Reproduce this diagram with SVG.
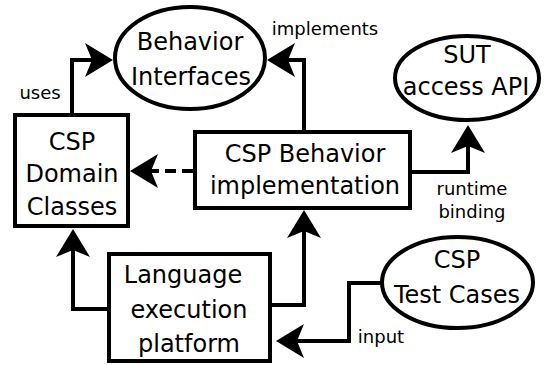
<svg xmlns="http://www.w3.org/2000/svg" width="547" height="365" viewBox="0 0 547 365">
<style>
.shape{fill:#fff;stroke:#000;stroke-width:4}
.t{font-family:"DejaVu Sans",sans-serif;font-size:24px;fill:#000;text-anchor:middle}
.s{font-family:"DejaVu Sans",sans-serif;font-size:18px;fill:#000;text-anchor:middle}
.c{fill:none;stroke:#000;stroke-width:4}
.d{stroke-dasharray:11 6}
</style>
<defs>
<marker id="ah" viewBox="0 0 28 34" refX="8" refY="17" markerWidth="28" markerHeight="34" markerUnits="userSpaceOnUse" orient="auto">
<path d="M28,17 L0,0 L7,17 L0,34 Z" fill="#000"/>
</marker>
</defs>
<rect width="547" height="365" fill="#fff"/>
<g id="connectors">
<path class="c" d="M72,115 V60 H93" marker-end="url(#ah)"/>
<path class="c" d="M304,132 V60 H287" marker-end="url(#ah)"/>
<path class="c d" d="M193,171 H150" marker-end="url(#ah)"/>
<path class="c" d="M410,172 H468 V145" marker-end="url(#ah)"/>
<path class="c" d="M109,309 H73 V249" marker-end="url(#ah)"/>
<path class="c" d="M270,305 H304 V230" marker-end="url(#ah)"/>
<path class="c" d="M382,283 H349 V341 H296" marker-end="url(#ah)"/>
<text class="s" x="40" y="99">uses</text>
<text class="s" x="325" y="35">implements</text>
<text class="s" x="472" y="195">runtime</text>
<text class="s" x="472" y="218">binding</text>
<text class="s" x="381" y="343">input</text>
</g>
<g id="behavior-interfaces">
<ellipse class="shape" cx="190" cy="58" rx="75" ry="51"/>
<text class="t" x="190" y="50">Behavior</text>
<text class="t" x="191" y="85">Interfaces</text>
</g>
<g id="sut-api">
<ellipse class="shape" cx="467" cy="78" rx="72" ry="42"/>
<text class="t" x="467" y="63">SUT</text>
<text class="t" x="466" y="95">access API</text>
</g>
<g id="domain-classes">
<rect class="shape" x="15" y="115" width="113" height="111"/>
<text class="t" x="72" y="150">CSP</text>
<text class="t" x="72" y="182">Domain</text>
<text class="t" x="72" y="215">Classes</text>
</g>
<g id="behavior-impl">
<rect class="shape" x="195" y="132" width="215" height="76"/>
<text class="t" x="305" y="162">CSP Behavior</text>
<text class="t" x="305" y="194">implementation</text>
</g>
<g id="language-platform">
<rect class="shape" x="109" y="254" width="161" height="107"/>
<text class="t" x="183" y="283">Language</text>
<text class="t" x="189" y="318">execution</text>
<text class="t" x="189" y="352">platform</text>
</g>
<g id="test-cases">
<ellipse class="shape" cx="457.5" cy="282.5" rx="75.5" ry="45.5"/>
<text class="t" x="457" y="268">CSP</text>
<text class="t" x="457" y="303">Test Cases</text>
</g>
</svg>
